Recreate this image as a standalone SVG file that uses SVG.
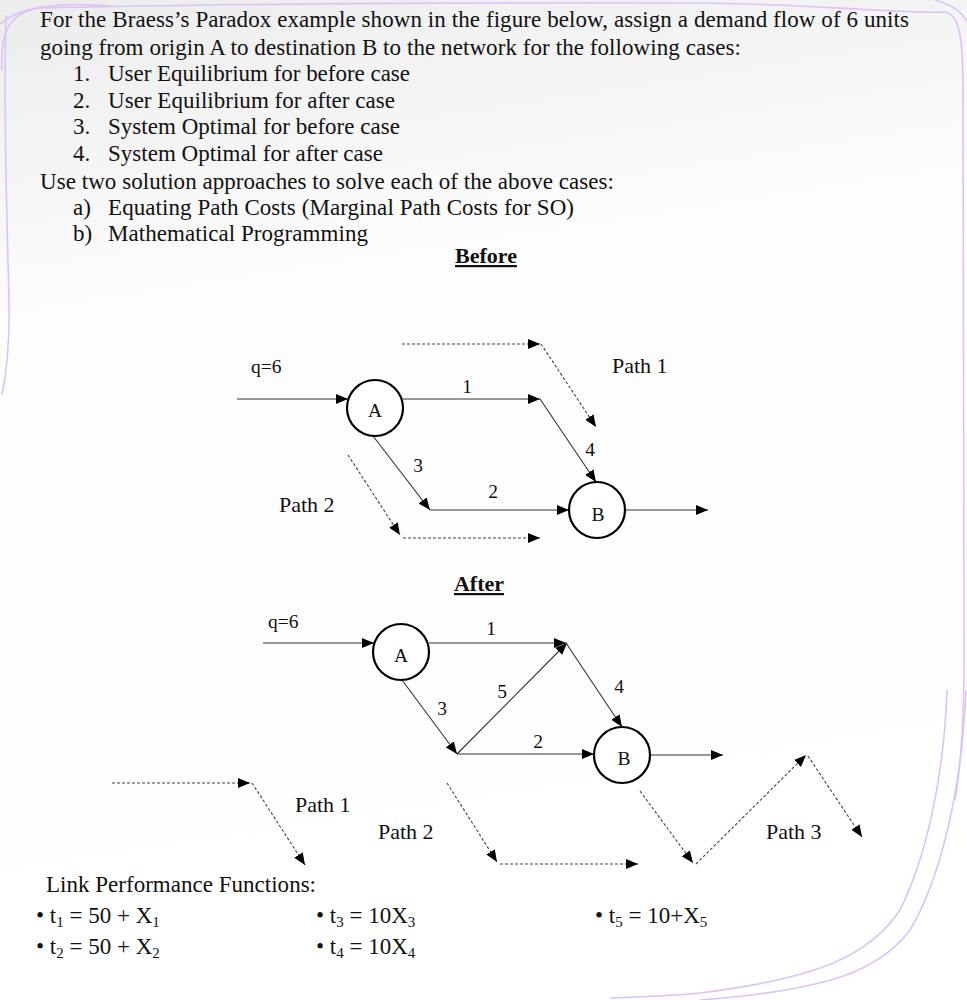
<svg xmlns="http://www.w3.org/2000/svg" width="967" height="1000" viewBox="0 0 967 1000">
<defs>
<linearGradient id="bg" x1="0" y1="0" x2="0.15" y2="1">
<stop offset="0" stop-color="#ececec"/>
<stop offset="0.32" stop-color="#fdfdfd"/>
<stop offset="1" stop-color="#ffffff"/>
</linearGradient>
<marker id="ah" markerUnits="userSpaceOnUse" markerWidth="12" markerHeight="10" viewBox="0 0 12 10" refX="12" refY="5" orient="auto">
<path d="M0,0 L12,5 L0,10 z" fill="#000"/>
</marker>
<style>
.t{font-family:"Liberation Serif","Times New Roman",serif;font-size:23px;fill:#111}
.lb{font-family:"Liberation Serif","Times New Roman",serif;font-size:19.5px;fill:#111}
.pl{font-family:"Liberation Serif","Times New Roman",serif;font-size:22px;fill:#111}
.ttl{font-family:"Liberation Serif","Times New Roman",serif;font-size:22px;font-weight:bold;fill:#111;text-decoration:underline}
.e{stroke:#333;stroke-width:1.1;fill:none;marker-end:url(#ah)}
.d{stroke:#444;stroke-width:1.1;fill:none;stroke-dasharray:3 2;marker-end:url(#ah)}
.n{fill:#fff;stroke:#000;stroke-width:2.2}
.fr{fill:none;stroke:#dcc3f6;stroke-width:1.6}
.sub{font-size:15px}
</style>
</defs>
<rect x="0" y="0" width="967" height="1000" fill="url(#bg)"/>
<g id="frame">
<path class="fr" d="M2,70 C0,35 8,12 40,8 C200,4 500,2 700,3 C820,4 900,14 945,12 C960,14 963,40 963,90 L964,620 C965,700 962,760 955,800"/>
<path class="fr" d="M0,24 C20,6 60,2 110,6"/>
<path class="fr" d="M935,0 C950,4 962,12 967,22"/>
<path class="fr" d="M6,15 C3,120 8,250 9,300 C10,345 6,375 2,395"/>
<path class="fr" d="M947,690 C944,780 925,860 900,910 C870,955 820,978 700,993 C670,996 640,997 610,998"/>
<path class="fr" d="M966,690 C962,790 940,880 910,930 C880,970 830,990 700,1000"/>
</g>
<g id="question">
<text class="t" x="40" y="27" textLength="869">For the Braess’s Paradox example shown in the figure below, assign a demand flow of 6 units</text>
<text class="t" x="40" y="55" textLength="701">going from origin A to destination B to the network for the following cases:</text>
<text class="t" x="73" y="81">1.</text><text class="t" x="108" y="81" textLength="302">User Equilibrium for before case</text>
<text class="t" x="73" y="108">2.</text><text class="t" x="108" y="108" textLength="287">User Equilibrium for after case</text>
<text class="t" x="73" y="134">3.</text><text class="t" x="108" y="134" textLength="292">System Optimal for before case</text>
<text class="t" x="73" y="161">4.</text><text class="t" x="108" y="161" textLength="275">System Optimal for after case</text>
<text class="t" x="40" y="189" textLength="574">Use two solution approaches to solve each of the above cases:</text>
<text class="t" x="73" y="215">a)</text><text class="t" x="108" y="215" textLength="466">Equating Path Costs (Marginal Path Costs for SO)</text>
<text class="t" x="73" y="241">b)</text><text class="t" x="108" y="241" textLength="260">Mathematical Programming</text>
</g>
<g id="title-before"><text class="ttl" x="486" y="263" text-anchor="middle">Before</text></g>
<g id="title-after"><text class="ttl" x="479" y="591" text-anchor="middle">After</text></g>
<g id="connectors">
<line class="e" x1="237" y1="399" x2="348" y2="399"/>
<line class="e" x1="403" y1="399" x2="540" y2="399"/>
<line class="e" x1="540" y1="399" x2="596" y2="482"/>
<line class="e" x1="373" y1="436" x2="430" y2="510"/>
<line class="e" x1="430" y1="510" x2="569" y2="510"/>
<line class="e" x1="625" y1="510" x2="708" y2="510"/>
<line class="d" x1="402" y1="344" x2="540" y2="344"/>
<line class="d" x1="541" y1="344" x2="596" y2="427"/>
<line class="d" x1="348" y1="455" x2="400" y2="535"/>
<line class="d" x1="403" y1="538" x2="540" y2="538"/>
<line class="e" x1="263" y1="643" x2="374" y2="643"/>
<line class="e" x1="429" y1="643" x2="566" y2="643"/>
<line class="e" x1="402" y1="680" x2="457" y2="754"/>
<line class="e" x1="457" y1="754" x2="567" y2="643"/>
<line class="e" x1="566" y1="643" x2="622" y2="727"/>
<line class="e" x1="457" y1="754" x2="594" y2="754"/>
<line class="e" x1="650" y1="755" x2="723" y2="755"/>
<line class="d" x1="112" y1="783" x2="250" y2="783"/>
<line class="d" x1="252" y1="783" x2="305" y2="865"/>
<line class="d" x1="447" y1="783" x2="497" y2="862"/>
<line class="d" x1="500" y1="864" x2="638" y2="864"/>
<line class="d" x1="640" y1="791" x2="693" y2="863"/>
<line class="d" x1="696" y1="864" x2="806" y2="755"/>
<line class="d" x1="808" y1="756" x2="862" y2="837"/>
</g>
<g id="node-A-before"><circle class="n" cx="375" cy="408" r="28"/><text class="lb" x="375" y="417" text-anchor="middle">A</text></g>
<g id="node-B-before"><circle class="n" cx="597" cy="510" r="28"/><text class="lb" x="598" y="521" text-anchor="middle">B</text></g>
<g id="node-A-after"><circle class="n" cx="401" cy="652" r="28"/><text class="lb" x="401" y="662" text-anchor="middle">A</text></g>
<g id="node-B-after"><circle class="n" cx="622" cy="755" r="28"/><text class="lb" x="624" y="765" text-anchor="middle">B</text></g>
<g id="labels-before">
<text class="lb" x="251" y="373">q=6</text>
<text class="lb" x="467" y="393" text-anchor="middle">1</text>
<text class="lb" x="418" y="472" text-anchor="middle">3</text>
<text class="lb" x="493" y="498" text-anchor="middle">2</text>
<text class="lb" x="590" y="456" text-anchor="middle">4</text>
<text class="pl" x="612" y="373">Path 1</text>
<text class="pl" x="279" y="512">Path 2</text>
</g>
<g id="labels-after">
<text class="lb" x="268" y="628">q=6</text>
<text class="lb" x="491" y="635" text-anchor="middle">1</text>
<text class="lb" x="502" y="698" text-anchor="middle">5</text>
<text class="lb" x="442" y="715" text-anchor="middle">3</text>
<text class="lb" x="619" y="693" text-anchor="middle">4</text>
<text class="lb" x="538" y="748" text-anchor="middle">2</text>
<text class="pl" x="295" y="812">Path 1</text>
<text class="pl" x="378" y="839">Path 2</text>
<text class="pl" x="766" y="839">Path 3</text>
</g>
<g id="functions">
<text class="t" x="46" y="892" textLength="270">Link Performance Functions:</text>
<text class="t" x="36" y="923">• t<tspan class="sub" dy="4">1</tspan><tspan dy="-4"> = 50 + X</tspan><tspan class="sub" dy="4">1</tspan></text>
<text class="t" x="36" y="954">• t<tspan class="sub" dy="4">2</tspan><tspan dy="-4"> = 50 + X</tspan><tspan class="sub" dy="4">2</tspan></text>
<text class="t" x="316" y="923">• t<tspan class="sub" dy="4">3</tspan><tspan dy="-4"> = 10X</tspan><tspan class="sub" dy="4">3</tspan></text>
<text class="t" x="316" y="954">• t<tspan class="sub" dy="4">4</tspan><tspan dy="-4"> = 10X</tspan><tspan class="sub" dy="4">4</tspan></text>
<text class="t" x="595" y="923">• t<tspan class="sub" dy="4">5</tspan><tspan dy="-4"> = 10+X</tspan><tspan class="sub" dy="4">5</tspan></text>
</g>
</svg>
